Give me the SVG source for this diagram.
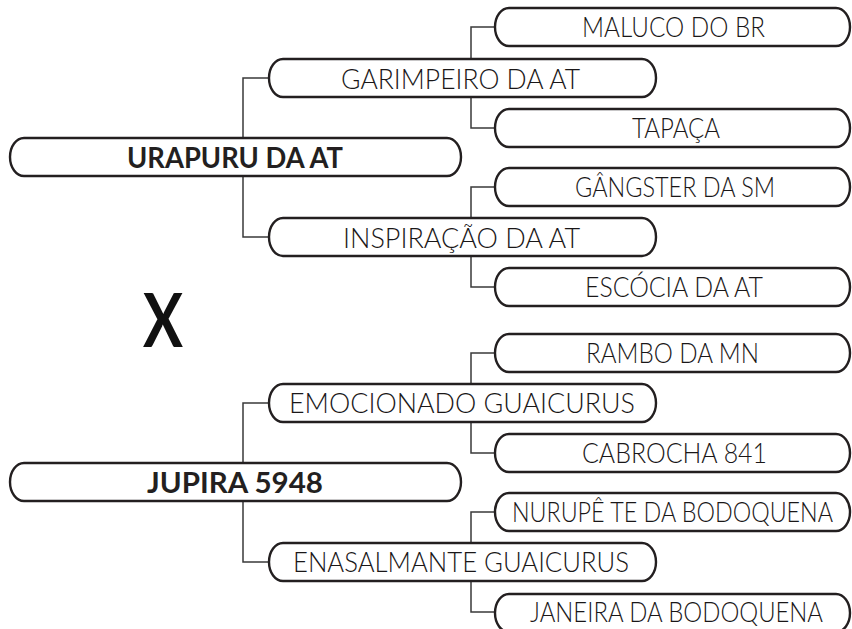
<svg xmlns="http://www.w3.org/2000/svg" width="852" height="629" viewBox="0 0 852 629">
<style>
.box{fill:#fff;stroke:#231f20;stroke-width:2.4}
.con{fill:none;stroke:#3a3a3a;stroke-width:1.5}
.t{font-family:Lato,"Liberation Sans",Arial,sans-serif;font-size:28px;font-weight:300;fill:#1a1718}
.b{font-weight:bold;fill:#231f20}
</style>
<rect width="852" height="629" fill="#fff"/>
<g id="connectors">
<path class="con" d="M243,138V78H269M243,176V237H269M243,463V403H269M243,501V562H269"/>
<path class="con" d="M471,59V27H495M471,97V128H495M471,218V187H495M471,256V287H495M471,384V353H495M471,422V453H495M471,543V512H495M471,581V612H495"/>
</g>
<g id="n1"><rect class="box" x="10" y="138" width="451" height="38" rx="14" ry="19"/><text class="t b" x="127" y="168" textLength="216" lengthAdjust="spacingAndGlyphs">URAPURU DA AT</text></g>
<g id="n2"><rect class="box" x="269" y="59" width="387" height="38" rx="14" ry="19"/><text class="t" x="341" y="89" textLength="239" lengthAdjust="spacingAndGlyphs">GARIMPEIRO DA AT</text></g>
<g id="n3"><rect class="box" x="495" y="8" width="355" height="38" rx="14" ry="19"/><text class="t" x="582" y="37" textLength="183" lengthAdjust="spacingAndGlyphs">MALUCO DO BR</text></g>
<g id="n4"><rect class="box" x="495" y="109" width="355" height="38" rx="14" ry="19"/><text class="t" x="632" y="138" textLength="88" lengthAdjust="spacingAndGlyphs">TAPAÇA</text></g>
<g id="n5"><rect class="box" x="269" y="218" width="387" height="38" rx="14" ry="19"/><text class="t" x="343" y="248" textLength="237" lengthAdjust="spacingAndGlyphs">INSPIRAÇÃO DA AT</text></g>
<g id="n6"><rect class="box" x="495" y="168" width="355" height="38" rx="14" ry="19"/><text class="t" x="575" y="197" textLength="200" lengthAdjust="spacingAndGlyphs">GÂNGSTER DA SM</text></g>
<g id="n7"><rect class="box" x="495" y="268" width="355" height="38" rx="14" ry="19"/><text class="t" x="585" y="297" textLength="178" lengthAdjust="spacingAndGlyphs">ESCÓCIA DA AT</text></g>
<g id="x"><text class="t b" x="143" y="347" textLength="40" lengthAdjust="spacingAndGlyphs" style="font-size:75px;fill:#111">X</text></g>
<g id="n8"><rect class="box" x="10" y="463" width="451" height="38" rx="14" ry="19"/><text class="t b" x="147" y="493" textLength="176" lengthAdjust="spacingAndGlyphs">JUPIRA 5948</text></g>
<g id="n9"><rect class="box" x="269" y="384" width="387" height="38" rx="14" ry="19"/><text class="t" x="289" y="413" textLength="346" lengthAdjust="spacingAndGlyphs">EMOCIONADO GUAICURUS</text></g>
<g id="n10"><rect class="box" x="495" y="334" width="355" height="38" rx="14" ry="19"/><text class="t" x="586" y="363" textLength="173" lengthAdjust="spacingAndGlyphs">RAMBO DA MN</text></g>
<g id="n11"><rect class="box" x="495" y="434" width="355" height="38" rx="14" ry="19"/><text class="t" x="582" y="463" textLength="185" lengthAdjust="spacingAndGlyphs">CABROCHA 841</text></g>
<g id="n12"><rect class="box" x="269" y="543" width="387" height="38" rx="14" ry="19"/><text class="t" x="293" y="572" textLength="336" lengthAdjust="spacingAndGlyphs">ENASALMANTE GUAICURUS</text></g>
<g id="n13"><rect class="box" x="495" y="493" width="355" height="38" rx="14" ry="19"/><text class="t" x="512" y="522" textLength="321" lengthAdjust="spacingAndGlyphs">NURUPÊ TE DA BODOQUENA</text></g>
<g id="n14"><rect class="box" x="495" y="594" width="355" height="38" rx="14" ry="19"/><text class="t" x="530" y="622" textLength="293" lengthAdjust="spacingAndGlyphs">JANEIRA DA BODOQUENA</text></g>
</svg>
